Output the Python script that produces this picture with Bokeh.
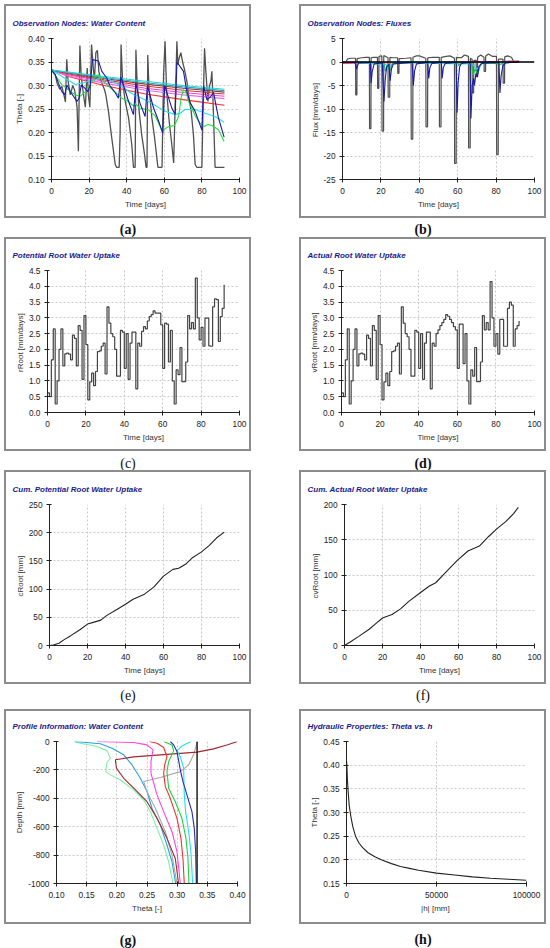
from bokeh.plotting import figure
from bokeh.models import FixedTicker, NumeralTickFormatter, Range1d, Span, Spacer
from bokeh.layouts import row, column
from bokeh.core.properties import value
from bokeh.embed import file_html
from bokeh.resources import INLINE

# ---------------- data ----------------
# (a) Observation nodes: water content
a_black_day = [0, 2, 3, 4.4, 5.5, 6.6, 7.4, 8.1, 8.8, 10, 11.3, 12.3, 13.6, 14.3, 15.1, 15.8, 17.2, 18,
               19, 19.6, 20.4, 21.3, 22.2, 22.8, 23.6, 24.4, 25.2, 26.3, 28.2, 28.9, 30.3, 32, 33.9, 34.6,
               36, 36.5, 37, 37.8, 39.2, 41, 42.7, 43.6, 44.5, 44.9, 45.4, 46.6, 48, 49.5, 50.3, 50.8,
               51.2, 51.8, 53.4, 54.8, 56.6, 58.8, 59.6, 60.4, 61.2, 62.6, 64, 65, 65.8, 66.7, 67.2, 67.9,
               68.8, 69.7, 70.7, 72, 72.9, 74.3, 75.5, 76.4, 77.3, 80, 80.5, 81.4, 82.1, 83.2, 84, 84.8,
               85.3, 85.8, 86.5, 87, 92]
a_black_theta = [0.333, 0.322, 0.305, 0.292, 0.298, 0.28, 0.265, 0.356, 0.31, 0.28, 0.3, 0.29, 0.254, 0.16,
                 0.385, 0.32, 0.275, 0.254, 0.337, 0.28, 0.254, 0.387, 0.34, 0.31, 0.37, 0.375, 0.33, 0.31,
                 0.291, 0.28, 0.245, 0.19, 0.132, 0.126, 0.126, 0.2, 0.387, 0.31, 0.266, 0.231, 0.174,
                 0.126, 0.126, 0.376, 0.32, 0.245, 0.195, 0.153, 0.126, 0.126, 0.365, 0.3, 0.231, 0.19,
                 0.126, 0.126, 0.323, 0.394, 0.29, 0.224, 0.174, 0.135, 0.26, 0.394, 0.344, 0.358, 0.37,
                 0.351, 0.335, 0.309, 0.28, 0.245, 0.195, 0.132, 0.126, 0.126, 0.23, 0.379, 0.33, 0.266,
                 0.298, 0.309, 0.33, 0.28, 0.195, 0.126, 0.126]
a_blue_day = [0, 2, 3.7, 5.5, 7, 8.2, 10, 11.7, 13.5, 14.7, 15.8, 17.6, 19.3, 20.6, 21.8, 25, 26.8, 29.4,
              31, 34, 35.6, 36.9, 41, 43.6, 44.9, 47, 49.8, 51, 54.3, 57, 59.2, 60.2, 64, 65.8, 66.7, 69,
              70.2, 72, 73.8, 76.4, 80, 80.9, 82.6, 84.4, 86.2, 88.8, 91.8]
a_blue_theta = [0.333, 0.323, 0.305, 0.287, 0.28, 0.301, 0.287, 0.277, 0.266, 0.273, 0.301, 0.295, 0.287,
                0.3, 0.355, 0.352, 0.33, 0.316, 0.3, 0.284, 0.273, 0.318, 0.266, 0.238, 0.305, 0.263,
                0.234, 0.3, 0.252, 0.224, 0.198, 0.3, 0.252, 0.238, 0.35, 0.337, 0.33, 0.287, 0.263,
                0.245, 0.205, 0.3, 0.27, 0.275, 0.285, 0.231, 0.19]
a_green_day = [0, 5.5, 9, 12.6, 15.2, 18, 20.6, 23.2, 25, 26.8, 30, 37.4, 41, 43.6, 44.5, 47, 51.6, 55,
               58.7, 60, 62, 65.4, 67.6, 69, 70.2, 71.5, 72.9, 76.4, 79, 81, 83.2, 85.3, 88.8, 91.8]
a_green_theta = [0.333, 0.302, 0.291, 0.28, 0.277, 0.287, 0.302, 0.319, 0.323, 0.312, 0.3, 0.273, 0.266,
                 0.256, 0.262, 0.252, 0.248, 0.236, 0.205, 0.207, 0.212, 0.215, 0.234, 0.275, 0.291,
                 0.287, 0.266, 0.236, 0.22, 0.213, 0.217, 0.215, 0.206, 0.181]
a_cyan_day = [0, 12.6, 23.2, 27.7, 37.4, 42.7, 51.6, 60.5, 65.8, 68.4, 71, 76.4, 81.7, 87, 91.8]
a_cyan_theta = [0.333, 0.302, 0.312, 0.319, 0.298, 0.283, 0.266, 0.245, 0.238, 0.241, 0.249, 0.249, 0.241,
                0.234, 0.222]
a_deep_day = [0, 10, 28, 50, 70, 92]
a_deep1_theta = [0.333, 0.328, 0.319, 0.309, 0.300, 0.292]
a_deep2_theta = [0.333, 0.327, 0.317, 0.306, 0.297, 0.289]
a_deep3_theta = [0.333, 0.326, 0.315, 0.303, 0.294, 0.286]
a_deep4_theta = [0.333, 0.324, 0.312, 0.299, 0.290, 0.282]
a_deep5_theta = [0.333, 0.322, 0.309, 0.294, 0.285, 0.277]
a_deep6_theta = [0.333, 0.319, 0.305, 0.290, 0.280, 0.272]
a_deep7_theta = [0.333, 0.318, 0.300, 0.282, 0.270, 0.258]

# (b) Observation nodes: fluxes
b_black_day = [0, 1.5, 2.5, 4, 6.8, 6.9, 7.5, 7.6, 10, 12, 14.0, 14.1, 14.8, 14.9, 16, 18.2, 18.3, 18.9, 19.0,
               20.5, 20.6, 21.4, 21.5, 23.7, 23.8, 24.6, 24.7, 26, 28.7, 28.8, 29.4, 29.5, 33, 35.7, 35.8,
               36.6, 36.7, 38.5, 40, 43.4, 43.5, 44.3, 44.4, 47, 50.4, 50.5, 51.3, 51.4, 54, 56, 58.3, 58.4,
               59.2, 59.3, 62, 63.5, 65.6, 65.7, 66.5, 66.6, 67.5, 67.6, 68.3, 68.4, 69.6, 69.7, 70.3, 70.4,
               72, 73.7, 73.8, 74.5, 74.6, 76, 78, 80.2, 80.3, 81.1, 81.2, 83.6, 83.7, 84.4, 84.5, 86, 88, 89]
b_black_flux = [-0.3, -0.2, 0.6, 0.8, 0.8, -7.0, -7.0, 0.7, 0.9, 1.0, 1.0, -14.2, -14.2, 0.9, 1.0, 1.0, -5.6,
                -5.6, 1.2, 1.3, -14.7, -14.7, 1.4, 0.9, -7.5, -7.5, 1.0, 0.9, 0.9, -2.4, -2.4, 0.7, 0.8, 0.9,
                -16.4, -16.4, 1.0, 1.3, 1.3, 0.8, -13.8, -13.8, 0.9, 1.0, 1.0, -13.8, -13.8, 1.0, 1.2, 1.3,
                0.8, -21.6, -21.6, 1.0, 0.9, 1.5, 1.2, -18.3, -18.3, 0.8, 0.6, -6.6, -6.6, 0.3, 0.4, -3.1,
                -3.1, 1.0, 1.5, 1.0, -2.0, -2.0, 1.3, 1.7, 1.2, 1.2, -19.7, -19.7, 0.6, 0.6, -4.5, -4.5,
                1.1, 1.3, 1.0, 0.2]
b_blue_day = [0, 6.5, 7.3, 7.8, 8.5, 14.5, 14.9, 15.5, 16.5, 20.7, 21.6, 22.2, 23, 24.2, 24.8, 25.5, 26.5,
              36.3, 36.9, 37.5, 38.5, 44.4, 44.9, 45.5, 46.5, 51.5, 51.9, 52.5, 53.5, 59.2, 59.7, 60.2, 61,
              62, 66.4, 66.9, 67.5, 68.3, 68.7, 69.5, 70.3, 71, 72.5, 81.5, 82, 82.6, 83.5, 85, 92]
b_blue_flux = [-0.1, -0.1, -1.5, -0.8, -0.2, -0.1, -4.5, -2.0, -0.4, -0.2, -8.4, -4.0, -1.0, -0.5, -4.0,
               -1.5, -0.4, -0.1, -5.0, -2.0, -0.4, -0.1, -3.5, -1.2, -0.3, -0.1, -3.5, -1.2, -0.3, -0.1,
               -10.8, -4.5, -1.0, -0.3, -0.1, -12.0, -5.0, -3.5, -5.0, -2.5, -3.2, -1.0, -0.3, -0.1, -6.6,
               -3.0, -0.8, -0.2, 0.0]
b_green_day = [0, 21.5, 22.3, 23.2, 24.8, 26, 27, 60, 60.5, 62, 67.2, 68, 69, 70.5, 72, 74, 82.5, 84, 92]
b_green_flux = [0, -0.1, -2.0, -0.8, -1.8, -0.3, 0, 0, -0.8, 0, -0.3, -2.8, -1.5, -2.5, -0.4, 0, -0.5, 0, 0]
b_cyan_day = [0, 22, 25, 26.5, 67.5, 70, 73, 92]
b_cyan_flux = [0, -0.5, -1.0, -0.2, -0.4, -1.5, -0.3, 0]
b_red_day = [0, 10, 40, 80, 92]
b_red_flux = [-0.3, -0.2, -0.1, 0.05, 0.2]
b_magenta_flux = [-0.2, -0.15, -0.05, 0.1, 0.15]

# (c) Potential root water uptake (daily)
c_day = list(range(93))
c_rroot = [0.62, 0.5, 1.67, 2.65, 0.27, 1.0, 2.0, 2.65, 1.48, 1.86, 1.88, 1.85, 1.67, 2.45, 2.35, 1.48, 2.75,
           2.6, 1.05, 3.07, 2.15, 0.4, 0.97, 1.25, 0.85, 1.3, 1.93, 1.95, 2.1, 2.2, 1.22, 3.35, 2.83, 2.5,
           2.4, 2.0, 1.15, 1.15, 2.6, 2.55, 1.4, 2.5, 1.05, 2.2, 2.55, 2.55, 0.75, 2.2, 2.1, 2.57, 2.72,
           2.65, 2.9, 3.04, 3.1, 3.22, 3.15, 3.15, 3.15, 2.78, 1.4, 2.83, 2.8, 1.6, 2.6, 1.0, 0.27, 1.35,
           1.2, 2.06, 0.98, 0.98, 1.6, 3.07, 2.65, 2.85, 2.65, 4.26, 3.0, 2.3, 2.7, 2.1, 2.99, 2.99, 2.11,
           2.1, 3.35, 3.6, 3.58, 2.25, 3.04, 3.3, 4.05]
# (d) Actual root water uptake (daily)
d_day = list(range(93))
d_vroot = [0.62, 0.5, 1.67, 2.65, 0.27, 1.0, 2.0, 2.65, 1.48, 1.86, 1.88, 1.85, 1.67, 2.45, 2.35, 1.48, 2.75,
           2.6, 1.05, 3.07, 2.15, 0.4, 0.97, 1.25, 0.85, 1.3, 1.93, 1.95, 2.1, 2.2, 1.22, 3.35, 2.83, 2.5,
           2.4, 2.0, 1.15, 1.15, 2.6, 2.55, 1.4, 2.5, 1.05, 2.2, 2.55, 2.55, 0.75, 2.2, 2.1, 2.5, 2.62,
           2.75, 2.85, 2.95, 3.1, 3.05, 2.95, 2.85, 2.72, 2.62, 1.4, 2.8, 2.8, 1.55, 2.5, 1.0, 0.27, 1.35,
           1.15, 2.06, 0.98, 0.98, 1.6, 3.07, 2.62, 2.85, 2.62, 4.15, 3.0, 2.1, 2.5, 1.85, 2.95, 2.95, 2.1,
           2.1, 3.3, 3.5, 3.4, 2.1, 2.65, 2.75, 2.9]

# (e) Cumulative potential root water uptake
e_day = [0, 2, 5, 7.5, 11, 16, 20, 23, 27, 30, 35, 40, 44, 50, 55, 60, 65, 68, 72, 75, 80, 84, 88, 92]
e_cum = [0, 1, 4, 10, 17, 28, 38, 41, 45, 53, 63, 73, 82, 91, 104, 123, 135, 137, 145, 155, 166, 177, 191, 201]
# (f) Cumulative actual root water uptake
f_day = [0, 3, 7.5, 13, 16, 20, 25, 29.5, 34, 39, 44.5, 48, 53, 59.5, 65, 71, 76, 80, 85, 89, 91.5]
f_cum = [0, 5, 13, 23, 30, 39, 44, 52, 63, 73, 84, 89, 103, 121, 134, 141, 155, 165, 176, 187, 196]

# (g) Profile information: water content (theta vs depth)
g_init_theta = [0.333, 0.333]
g_init_depth = [0, -1000]
g_blue_theta = [0.2886, 0.2942, 0.2997, 0.3052, 0.3096, 0.3162, 0.3245, 0.3284, 0.3306, 0.3317]
g_blue_depth = [0, -24, -71, -200, -282, -376, -494, -612, -776, -1000]
g_cyan_theta = [0.3228, 0.3079, 0.2997, 0.3052, 0.3107, 0.3118, 0.314, 0.319, 0.3228, 0.3256]
g_cyan_depth = [0, -31, -66, -106, -188, -376, -494, -635, -776, -1000]
g_green_theta = [0.2776, 0.2914, 0.2942, 0.2859, 0.2831, 0.2859, 0.2969, 0.3079, 0.3146, 0.3179, 0.3195]
g_green_depth = [0, -24, -66, -141, -212, -329, -424, -541, -682, -824, -1000]
g_red_theta = [0.2539, 0.2666, 0.2776, 0.2831, 0.2793, 0.2776, 0.2804, 0.2886, 0.2997, 0.3063, 0.3096, 0.3118]
g_red_depth = [0, -12, -42, -106, -165, -224, -318, -400, -541, -682, -824, -1000]
g_magenta_theta = [0.1673, 0.228, 0.25, 0.26, 0.2566, 0.2566, 0.2666, 0.2776, 0.2914, 0.2997, 0.3052]
g_magenta_depth = [0, -7, -24, -59, -141, -224, -376, -494, -635, -776, -1000]
g_brown_theta = [0.40, 0.3824, 0.3603, 0.3328, 0.2721, 0.228, 0.1976, 0.1993, 0.2114, 0.228, 0.25, 0.2666,
                 0.2831, 0.2969, 0.3024]
g_brown_depth = [0, -24, -52, -75, -94, -108, -129, -188, -259, -329, -424, -541, -682, -824, -1000]
g_gray_theta = [0.333, 0.3328, 0.3272, 0.319, 0.3052, 0.2721, 0.2445, 0.25, 0.2638, 0.2804, 0.2914, 0.2997]
g_gray_depth = [0, -12, -94, -165, -212, -254, -282, -353, -470, -635, -800, -1000]
g_sky_theta = [0.1298, 0.1728, 0.1921, 0.2114, 0.2252, 0.239, 0.25, 0.2583, 0.2721, 0.2831, 0.2914, 0.2975]
g_sky_depth = [0, -16, -47, -94, -165, -259, -353, -470, -588, -729, -847, -1000]
g_lgreen_theta = [0.1314, 0.1673, 0.1838, 0.1894, 0.1838, 0.1816, 0.1894, 0.2059, 0.228, 0.2445, 0.2555,
                  0.2666, 0.2776, 0.2859, 0.2931]
g_lgreen_depth = [-5, -35, -66, -118, -146, -212, -235, -271, -341, -412, -494, -612, -729, -847, -1000]

# (h) Hydraulic properties: theta vs |h|
h_abs = [0, 200, 500, 1000, 1500, 2500, 3500, 5000, 7000, 9000, 12000, 16000, 20000, 25000, 30000, 35000,
         40000, 50000, 60000, 70000, 80000, 90000, 100000]
h_theta = [0.41, 0.40, 0.37, 0.34, 0.315, 0.29, 0.27, 0.25, 0.235, 0.226, 0.215, 0.206, 0.199, 0.192, 0.186,
           0.182, 0.178, 0.172, 0.168, 0.164, 0.161, 0.159, 0.157]

panel_labels = ["(a)", "(b)", "(c)", "(d)", "(e)", "(f)", "(g)", "(h)"]

# ---------------- styling helpers ----------------
FONT = "Liberation Sans"
BOX = "inset 0 0 0 2px #8c8c8c"


def make_fig(title, w, h, xr, yr, xticks, yticks, xfmt, yfmt, xlabel, ylabel,
             left, right, top, bottom, title_standoff=22):
    p = figure(width=w, height=h, x_range=Range1d(*xr), y_range=Range1d(*yr),
               output_backend="svg", toolbar_location=None,
               min_border_left=left, min_border_right=right,
               min_border_top=top, min_border_bottom=bottom,
               background_fill_color=None, border_fill_color=None)
    p.styles = {"box-shadow": BOX}
    p.outline_line_color = None
    p.title.text = title
    p.title.text_font = FONT
    p.title.text_font_size = "8px"
    p.title.text_font_style = "bold italic"
    p.title.text_color = "#1a1a8c"
    p.title.align = "left"
    p.title.offset = 8 - left
    p.title.standoff = title_standoff
    for ax, ticks, fmt, lab, lstand, tstand in ((p.xaxis[0], xticks, xfmt, xlabel, 3, 5),
                                                (p.yaxis[0], yticks, yfmt, ylabel, 1, 4)):
        ax.ticker = FixedTicker(ticks=ticks)
        ax.formatter = NumeralTickFormatter(format=fmt)
        ax.axis_label = lab
        ax.axis_label_text_font = FONT
        ax.axis_label_text_font_size = "8px"
        ax.axis_label_text_font_style = "normal"
        ax.axis_label_text_color = "#333333"
        ax.major_label_text_font = FONT
        ax.major_label_text_font_size = "8.3px"
        ax.major_label_text_color = "#222222"
        ax.axis_line_color = "#222222"
        ax.major_tick_line_color = "#222222"
        ax.major_tick_in = 2
        ax.major_tick_out = 3
        ax.minor_tick_line_color = None
        ax.axis_label_standoff = lstand
        ax.major_label_standoff = tstand
    p.grid.grid_line_color = "#c8c8c8"
    p.grid.grid_line_dash = "2 2"
    return p


def label_fig(txt, w, h, ypos, bold=True):
    p = figure(width=w, height=h, x_range=Range1d(0, 1), y_range=Range1d(0, 1),
               output_backend="svg", toolbar_location=None,
               min_border_left=0, min_border_right=0, min_border_top=0, min_border_bottom=0,
               background_fill_color=None, border_fill_color=None)
    p.title = None
    p.axis.visible = False
    p.grid.visible = False
    p.outline_line_color = None
    p.text(x=[0.5], y=[ypos], text=[txt], text_align="center", text_baseline="middle",
           text_font=value("Liberation Serif"), text_font_size="14px",
           text_font_style="bold" if bold else "normal", text_color="#111111")
    return p


W = 247
DAYS = [0, 20, 40, 60, 80, 100]

# (a)
pa = make_fig("Observation Nodes: Water Content", W, 214, (0, 100), (0.10, 0.40), DAYS,
              [0.10, 0.15, 0.20, 0.25, 0.30, 0.35, 0.40], "0", "0.00", "Time [days]", "Theta [-]",
              47, 12, 34, 39)
pa.line(a_black_day, a_black_theta, line_color="#505050", line_width=1.3)
for th, col in ((a_deep7_theta, "#ff2a2a"), (a_deep6_theta, "#e070e8"), (a_deep5_theta, "#ff3fd0"),
                (a_deep4_theta, "#c83a3a"), (a_deep3_theta, "#8b3a3a"), (a_deep2_theta, "#2aa7b8"),
                (a_deep1_theta, "#20d8d8")):
    pa.line(a_deep_day, th, line_color=col, line_width=1.1)
pa.line(a_cyan_day, a_cyan_theta, line_color="#20e0f0", line_width=1.1)
pa.line(a_green_day, a_green_theta, line_color="#20e040", line_width=1.1)
pa.line(a_blue_day, a_blue_theta, line_color="#1a1aa8", line_width=1.1)

# (b)
pb = make_fig("Observation Nodes: Fluxes", W, 214, (0, 100), (-25, 5), DAYS,
              [-25, -20, -15, -10, -5, 0, 5], "0", "0", "Time [days]", "Flux  [mm/days]",
              43, 12, 34, 39)
pb.line(b_black_day, b_black_flux, line_color="#505050", line_width=1.2)
pb.line(b_red_day, b_red_flux, line_color="#ff2a2a", line_width=1.1)
pb.line(b_red_day, b_magenta_flux, line_color="#ff3fd0", line_width=1.1)
pb.line(b_cyan_day, b_cyan_flux, line_color="#20e0f0", line_width=1.1)
pb.line(b_green_day, b_green_flux, line_color="#20c040", line_width=1.1)
pb.line(b_blue_day, b_blue_flux, line_color="#1a1aa8", line_width=1.1)
pb.add_layout(Span(location=0, dimension="width", line_color="black", line_width=1.5))

# (c)
UP_T = [0.0, 0.5, 1.0, 1.5, 2.0, 2.5, 3.0, 3.5, 4.0, 4.5]
pc = make_fig("Potential Root Water Uptake", W, 214, (0, 100), (0, 4.5), DAYS, UP_T, "0", "0.0",
              "Time [days]", "rRoot  [mm/days]", 43, 12, 33, 39)
pc.step(c_day, c_rroot, mode="after", line_color="#444444", line_width=1.2)

# (d)
pd = make_fig("Actual Root Water Uptake", W, 214, (0, 100), (0, 4.5), DAYS, UP_T, "0", "0.0",
              "Time [days]", "vRoot  [mm/days]", 42, 12, 33, 39)
pd.step(d_day, d_vroot, mode="after", line_color="#444444", line_width=1.2)

# (e)
pe = make_fig("Cum. Potential Root Water Uptake", W, 214, (0, 100), (0, 250), DAYS,
              [0, 50, 100, 150, 200, 250], "0", "0", "Time [days]", "cRoot  [mm]", 45, 12, 34, 39)
pe.line(e_day, e_cum, line_color="#222222", line_width=1.1)

# (f)
pf = make_fig("Cum. Actual Root Water Uptake", W, 214, (0, 100), (0, 200), DAYS,
              [0, 50, 100, 150, 200], "0", "0", "Time [days]", "cvRoot  [mm]", 45, 12, 34, 39)
pf.line(f_day, f_cum, line_color="#222222", line_width=1.1)

# (g)
pg = make_fig("Profile Information:  Water Content", W, 215, (0.10, 0.40), (-1000, 0),
              [0.10, 0.15, 0.20, 0.25, 0.30, 0.35, 0.40], [-1000, -800, -600, -400, -200, 0],
              "0.00", "0", "Theta [-]", "Depth [mm]", 52, 14, 31, 41, title_standoff=21)
for th, dp, col in ((g_lgreen_theta, g_lgreen_depth, "#7cf0a0"), (g_sky_theta, g_sky_depth, "#2aa0e0"),
                    (g_gray_theta, g_gray_depth, "#a8a8a8"), (g_brown_theta, g_brown_depth, "#a0282c"),
                    (g_magenta_theta, g_magenta_depth, "#ff3fe0"), (g_red_theta, g_red_depth, "#f03030"),
                    (g_green_theta, g_green_depth, "#20d040"), (g_cyan_theta, g_cyan_depth, "#20e0f0"),
                    (g_blue_theta, g_blue_depth, "#2a2ac0")):
    pg.line(th, dp, line_color=col, line_width=1.1)
pg.line(g_init_theta, g_init_depth, line_color="#111111", line_width=1.4)

# (h)
ph = make_fig("Hydraulic Properties:  Theta vs. h", W, 215, (0, 100000), (0.15, 0.45),
              [0, 50000, 100000], [0.15, 0.20, 0.25, 0.30, 0.35, 0.40, 0.45], "0", "0.00",
              "|h|  [mm]", "Theta [-]", 47, 20, 31, 41, title_standoff=21)
ph.line(h_abs, h_theta, line_color="#222222", line_width=1.1)

la = label_fig(panel_labels[0], W, 19, 0.42)
lb = label_fig(panel_labels[1], W, 19, 0.42)
lc = label_fig(panel_labels[2], W, 19, 0.37, False)
ld = label_fig(panel_labels[3], W, 19, 0.37)
le = label_fig(panel_labels[4], W, 25, 0.56, False)
lf = label_fig(panel_labels[5], W, 25, 0.56, False)
lg = label_fig(panel_labels[6], W, 24, 0.33)
lh = label_fig(panel_labels[7], W, 24, 0.37)


def pair(left_item, right_item):
    return row(Spacer(width=4, height=5), left_item, Spacer(width=48, height=5), right_item)


layout = column(Spacer(width=500, height=4),
                pair(pa, pb), pair(la, lb),
                pair(pc, pd), pair(lc, ld),
                pair(pe, pf), pair(le, lf),
                pair(pg, ph), pair(lg, lh))

open("out.html", "w").write(file_html(layout, INLINE))
